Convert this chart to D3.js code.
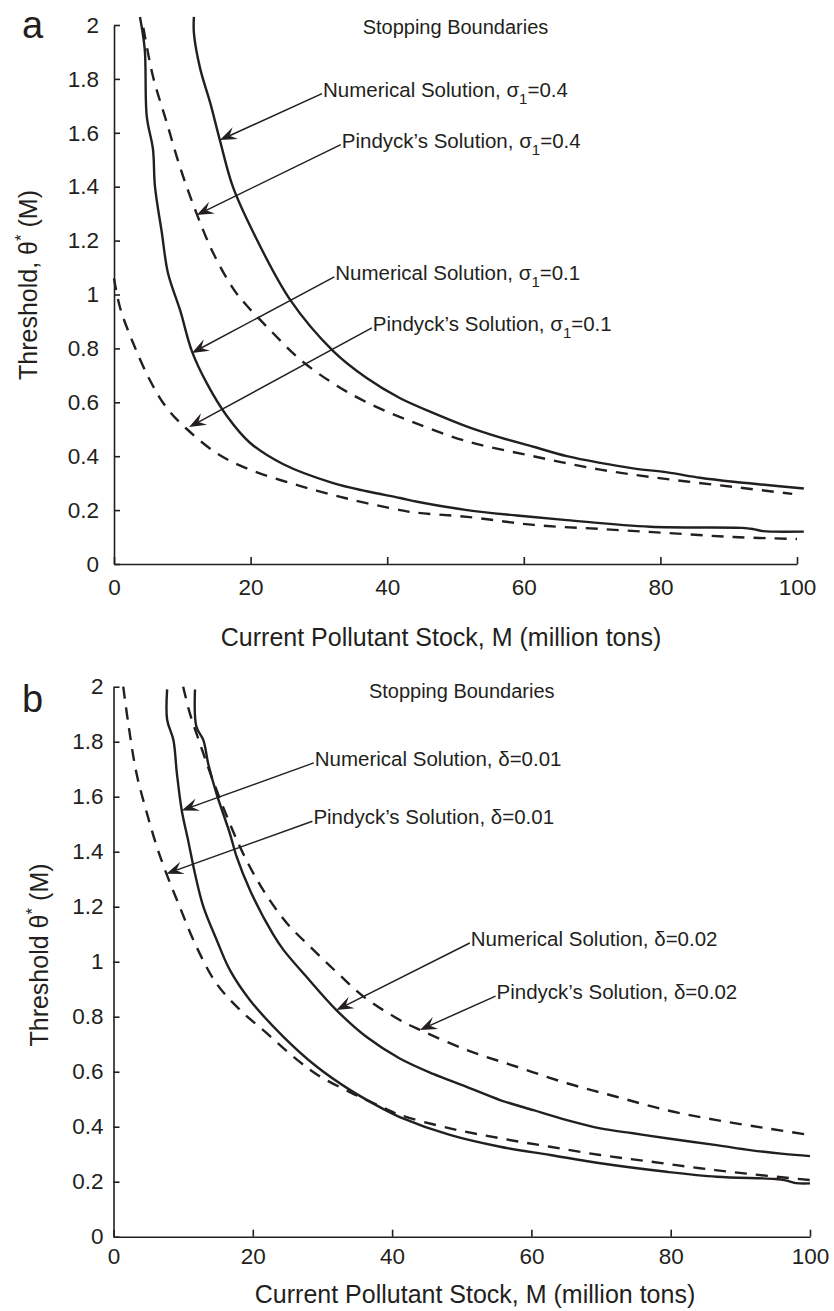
<!DOCTYPE html>
<html>
<head>
  <meta charset="utf-8">
  <script src="https://d3js.org/d3.v7.min.js"></script>
  <style>
    body { margin: 0; background: #fff; }
    text { font-family: "Liberation Sans", Arial, Helvetica, sans-serif; fill: #231f20; }
    .axis path, .axis line { stroke: #231f20; stroke-width: 1.6px; }
    .axis text { font-size: 22.5px; fill: #231f20; font-family: "Liberation Sans", Arial, sans-serif; }
    .curve { fill: none; stroke: #231f20; stroke-width: 2.4px; stroke-linejoin: round; }
    .dashed { stroke-dasharray: 12, 9; }
    .note-line { stroke: #231f20; stroke-width: 1.5px; }
    .note-head { fill: #231f20; }
  </style>
</head>
<body>
  <svg id="chart" width="834" height="1311"></svg>

  <script>
    // ---- data (x = M in million tons, y = threshold) ----

    const xTicks = [0, 20, 40, 60, 80, 100];
    const yTicks = [0, 0.2, 0.4, 0.6, 0.8, 1, 1.2, 1.4, 1.6, 1.8, 2];

    // panel a: sigma_1 = 0.4 and 0.1
    const numSig04 = [[11.7,2.03],[11.7,1.97],[12.6,1.84],[14.1,1.71],[15.5,1.573],[17.4,1.40],[20.4,1.23],
      [25.8,0.98],[32.1,0.79],[37.0,0.69],[41.9,0.615],[46.8,0.56],[51.7,0.51],[56.5,0.47],[61.4,0.435],
      [66.3,0.40],[71.2,0.375],[76.0,0.355],[81,0.34],[85.8,0.32],[90.7,0.305],[95.6,0.293],[101,0.28]];
    const pinSig04 = [[4.3,1.99],[5.7,1.81],[7.7,1.64],[9.7,1.47],[12.1,1.30],[14.6,1.15],[17.5,1.02],
      [19.4,0.96],[22.4,0.88],[27.2,0.76],[32.1,0.67],[37,0.60],[43.4,0.53],[51.7,0.455],[61.4,0.40],
      [71.2,0.35],[81,0.315],[90.7,0.286],[99.3,0.26]];
    const numSig01 = [[3.8,2.03],[4.5,1.91],[4.8,1.66],[5.7,1.54],[6.0,1.40],[7.0,1.23],[7.9,1.08],
      [9.7,0.94],[11.4,0.79],[13.6,0.67],[16.5,0.55],[19.9,0.45],[24.8,0.37],[32.1,0.30],[37,0.27],
      [41.9,0.245],[44.4,0.231],[51.7,0.20],[59,0.18],[66.3,0.163],[78.5,0.138],[92,0.134],[93.5,0.13],
      [95,0.122],[96.5,0.12],[101,0.12]];
    const pinSig01 = [[0,1.06],[0.9,0.95],[2.8,0.82],[5.3,0.68],[7.7,0.58],[10.7,0.50],[15.1,0.41],
      [19.9,0.35],[27.2,0.29],[34.6,0.24],[41.9,0.20],[44.4,0.19],[51.7,0.175],[61.4,0.145],[71.2,0.13],
      [81,0.115],[90.7,0.10],[100,0.093]];

    // panel b: delta = 0.01 and 0.02
    const pinDel01 = [[1.4,2.0],[2.1,1.87],[3.3,1.685],[4.8,1.54],[6.2,1.42],[7.6,1.32],[9.5,1.20],
      [11.9,1.055],[14.8,0.92],[18.2,0.824],[22.0,0.74],[25.8,0.655],[29.2,0.59],[34.0,0.525],[38.7,0.47],
      [41.1,0.443],[48.3,0.394],[55.5,0.358],[62.7,0.327],[69.9,0.297],[77.1,0.273],[84.2,0.249],
      [91.4,0.228],[100,0.206]];
    const numDel01 = [[7.7,1.99],[7.7,1.88],[8.6,1.806],[9.1,1.685],[9.8,1.55],[10.7,1.443],[11.7,1.32],
      [12.9,1.20],[14.8,1.08],[16.7,0.97],[19.6,0.86],[24.4,0.727],[29.2,0.618],[34.0,0.533],[38.7,0.465],
      [41.1,0.435],[48.3,0.37],[55.5,0.327],[62.7,0.297],[69.9,0.267],[79.4,0.236],[86.6,0.218],
      [95,0.21],[96.5,0.205],[98,0.195],[100,0.194]];
    const numDel02 = [[11.7,1.99],[11.9,1.855],[12.9,1.806],[13.6,1.72],[14.8,1.61],[16.7,1.467],
      [17.7,1.38],[19.6,1.26],[22.9,1.10],[24.4,1.043],[27.7,0.945],[32.0,0.824],[36.4,0.725],[41.1,0.648],
      [45.9,0.592],[50.7,0.545],[55.5,0.497],[60.3,0.46],[65.1,0.424],[69.9,0.394],[74.6,0.376],
      [79.4,0.358],[86.6,0.333],[91.4,0.315],[96.2,0.301],[100,0.293]];
    const pinDel02 = [[10.0,2.0],[11.0,1.90],[12.4,1.794],[13.9,1.685],[16.3,1.527],[18.6,1.394],
      [21.5,1.26],[24.9,1.14],[28.7,1.043],[32.2,0.958],[35.9,0.873],[41.1,0.788],[44.0,0.752],
      [50.7,0.679],[57.9,0.618],[65.1,0.558],[72.2,0.509],[79.4,0.46],[86.6,0.424],[93.8,0.394],[100,0.37]];

    // annotation labels: text start (tx, ty baseline) and arrow tip (ax, ay), data units
    const notesA = [
      { label: ["Numerical Solution, σ", "1", "=0.4"], tx: 30.6, ty: 1.734, ax: 15.5, ay: 1.573 },
      { label: ["Pindyck’s Solution, σ", "1", "=0.4"], tx: 33.35, ty: 1.545, ax: 12.1, ay: 1.295 },
      { label: ["Numerical Solution, σ", "1", "=0.1"], tx: 32.4, ty: 1.054, ax: 11.4, ay: 0.783 },
      { label: ["Pindyck’s Solution, σ", "1", "=0.1"], tx: 37.9, ty: 0.865, ax: 11.0, ay: 0.508 }
    ];
    const notesB = [
      { label: ["Numerical Solution, δ=0.01"], tx: 28.9, ty: 1.712, ax: 9.8, ay: 1.55 },
      { label: ["Pindyck’s Solution, δ=0.01"], tx: 28.7, ty: 1.50, ax: 7.6, ay: 1.32 },
      { label: ["Numerical Solution, δ=0.02"], tx: 51.3, ty: 1.057, ax: 32.0, ay: 0.824 },
      { label: ["Pindyck’s Solution, δ=0.02"], tx: 55.0, ty: 0.864, ax: 44.0, ay: 0.752 }
    ];

    const svg = d3.select("#chart");

    // ---- panel layout ----
    const panels = [
      {
        letter: "a", yTitle: "Threshold, θ",
        x0: 114, x1: 797, yTop: 25, yBot: 564,
        xPad: 15, yPad: 15,
        letterPos: [22, 38], subTitleY: 34,
        xTitle: [441, 646], yTitlePos: [37, 285],
        series: [
          { data: numSig04, dashed: false }, { data: pinSig04, dashed: true },
          { data: numSig01, dashed: false }, { data: pinSig01, dashed: true }
        ],
        notes: notesA
      },
      {
        letter: "b", yTitle: "Threshold θ",
        x0: 113.5, x1: 810, yTop: 686.7, yBot: 1236.7,
        xPad: 11, yPad: 10,
        letterPos: [22, 712], subTitleY: 698,
        xTitle: [475, 1303], yTitlePos: [48, 955],
        series: [
          { data: pinDel01, dashed: true }, { data: numDel01, dashed: false },
          { data: numDel02, dashed: false }, { data: pinDel02, dashed: true }
        ],
        notes: notesB
      }
    ];

    panels.forEach(p => drawPanel(p));

    function drawPanel(p) {
      const x = d3.scaleLinear().domain([0, 100]).range([p.x0, p.x1]);
      const y = d3.scaleLinear().domain([0, 2]).range([p.yBot, p.yTop]);
      const g = svg.append("g");

      // axes, ticks pointing inward
      g.append("g").attr("class", "axis")
        .attr("transform", "translate(0," + p.yBot + ")")
        .call(d3.axisBottom(x).tickValues(xTicks).tickSizeInner(-7).tickSizeOuter(0)
          .tickPadding(p.xPad).tickFormat(d3.format("~g")));

      g.append("g").attr("class", "axis")
        .attr("transform", "translate(" + p.x0 + ",0)")
        .call(d3.axisLeft(y).tickValues(yTicks).tickSizeInner(-6).tickSizeOuter(0)
          .tickPadding(p.yPad).tickFormat(d3.format("~g")));

      // curves
      const line = d3.line()
        .x(d => x(d[0]))
        .y(d => y(d[1]))
        .curve(d3.curveCatmullRom.alpha(0.5));

      p.series.forEach(s => {
        g.append("path")
          .attr("class", s.dashed ? "curve dashed" : "curve")
          .attr("d", line(s.data));
      });

      // titles
      g.append("text")
        .attr("x", (p.x0 + p.x1) / 2).attr("y", p.subTitleY)
        .attr("text-anchor", "middle").style("font-size", "20px")
        .text("Stopping Boundaries");

      g.append("text")
        .attr("x", p.letterPos[0]).attr("y", p.letterPos[1])
        .style("font-size", "38px")
        .text(p.letter);

      g.append("text")
        .attr("x", p.xTitle[0]).attr("y", p.xTitle[1])
        .attr("text-anchor", "middle").style("font-size", "25px")
        .text("Current Pollutant Stock, M (million tons)");

      const yt = g.append("text")
        .attr("transform", "translate(" + p.yTitlePos[0] + "," + p.yTitlePos[1] + ") rotate(-90)")
        .attr("text-anchor", "middle").style("font-size", "25px");
      yt.append("tspan").text(p.yTitle);
      yt.append("tspan").attr("dy", -10).style("font-size", "17px").text("*");
      yt.append("tspan").attr("dy", 10).text(" (M)");

      // annotations with arrows
      p.notes.forEach(n => {
        const tx = x(n.tx), ty = y(n.ty);
        const sx = tx - 1, sy = ty - 3;
        const ex = x(n.ax), ey = y(n.ay);
        const ang = Math.atan2(ey - sy, ex - sx);
        const L = 17, W = 6.5;
        const notch = L * 0.62;

        g.append("line").attr("class", "note-line")
          .attr("x1", sx).attr("y1", sy)
          .attr("x2", ex - notch * Math.cos(ang)).attr("y2", ey - notch * Math.sin(ang));

        g.append("path").attr("class", "note-head")
          .attr("transform", "translate(" + ex + "," + ey + ") rotate(" + (ang * 180 / Math.PI) + ")")
          .attr("d", "M0,0 L" + (-L) + "," + (-W) + " L" + (-notch) + ",0 L" + (-L) + "," + W + " Z");

        const t = g.append("text").attr("x", tx).attr("y", ty).style("font-size", "20.5px");
        t.append("tspan").text(n.label[0]);
        if (n.label.length > 1) {
          t.append("tspan").attr("dy", 7).style("font-size", "15px").text(n.label[1]);
          t.append("tspan").attr("dy", -7).text(n.label[2]);
        }
      });
    }
  </script>
</body>
</html>
